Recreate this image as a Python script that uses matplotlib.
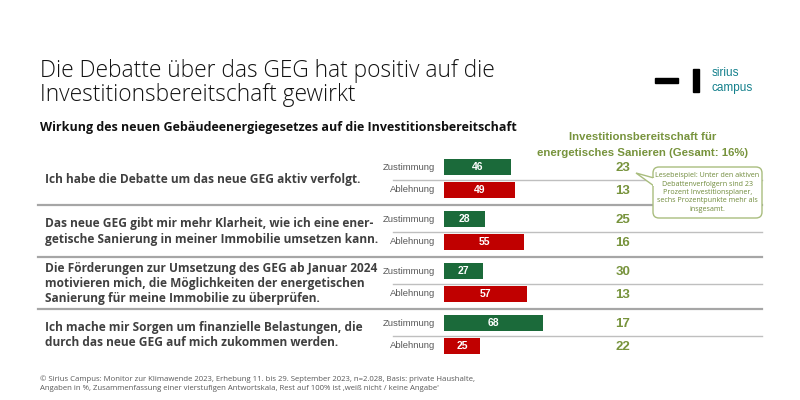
import matplotlib.pyplot as plt
from matplotlib.patches import FancyBboxPatch, Polygon, Rectangle

# data
statements = [
    "Ich habe die Debatte um das neue GEG aktiv verfolgt.",
    "Das neue GEG gibt mir mehr Klarheit, wie ich eine ener-\ngetische Sanierung in meiner Immobilie umsetzen kann.",
    "Die Förderungen zur Umsetzung des GEG ab Januar 2024\nmotivieren mich, die Möglichkeiten der energetischen\nSanierung für meine Immobilie zu überprüfen.",
    "Ich mache mir Sorgen um finanzielle Belastungen, die\ndurch das neue GEG auf mich zukommen werden.",
]
answers = ["Zustimmung", "Ablehnung"]
zustimmung = [46, 28, 27, 68]
ablehnung = [49, 55, 57, 25]
invest_zust = [23, 25, 30, 17]
invest_abl = [13, 16, 13, 22]

GREEN = "#1b6a3a"
RED = "#c00000"
OLIVE = "#77933c"
GRAY = "#a6a6a6"
TXT = "#404040"

fig = plt.figure(figsize=(8, 4), dpi=100)
ax = fig.add_axes([0, 0, 1, 1])
ax.set_xlim(0, 800)
ax.set_ylim(400, 0)
ax.axis("off")

# title
ax.text(40, 71, "Die Debatte über das GEG hat positiv auf die", fontsize=16.4,
        family="Open Sans", weight="light", color="#111111", va="center")
ax.text(40, 95, "Investitionsbereitschaft gewirkt", fontsize=16.4,
        family="Open Sans", weight="light", color="#111111", va="center")
ax.text(40, 128, "Wirkung des neuen Gebäudeenergiegesetzes auf die Investitionsbereitschaft",
        fontsize=9.0, family="Open Sans", weight="bold", color="#111111", va="center")

# logo
ax.add_patch(Rectangle((655, 78), 23, 4.5, color="black"))
ax.add_patch(Rectangle((693, 69), 6, 23, color="black"))
ax.text(712, 73, "sirius", fontsize=8.5, family="Liberation Sans", color="#14808c", va="center")
ax.text(712, 88, "campus", fontsize=8.5, family="Liberation Sans", color="#14808c", va="center")

# column header
ax.text(643, 137, "Investitionsbereitschaft für", fontsize=8.2, family="Liberation Sans",
        weight="bold", color=OLIVE, ha="center", va="center")
ax.text(643, 153, "energetisches Sanieren (Gesamt: 16%)", fontsize=8.2, family="Liberation Sans",
        weight="bold", color=OLIVE, ha="center", va="center")

group_top = 155
group_h = 52
row_off = [12, 35]

bx = fig.add_axes([444 / 800, 0, 145.5 / 800, 1])
bx.set_xlim(0, 100)
bx.set_ylim(400, 0)
bx.axis("off")

for i, st in enumerate(statements):
    g0 = group_top + i * group_h
    yz = g0 + row_off[0]
    ya = g0 + row_off[1]
    ax.text(45, (yz + ya) / 2 + 1, st, fontsize=8.6, family="Open Sans", weight="bold",
            color=TXT, va="center", linespacing=1.2)
    for y, lab, val, inv, col in [(yz, answers[0], zustimmung[i], invest_zust[i], GREEN),
                                  (ya, answers[1], ablehnung[i], invest_abl[i], RED)]:
        ax.text(435, y, lab, fontsize=6.8, family="Liberation Sans", color="#595959",
                ha="right", va="center")
        bx.barh(y, val, height=16, color=col)
        bx.text(val / 2, y, str(val), fontsize=7.5, family="Liberation Sans", weight="bold",
                color="white", ha="center", va="center")
        ax.text(623, y + 1, str(inv), fontsize=9.5, family="Liberation Sans", weight="bold",
                color=OLIVE, ha="center", va="center")
    # separator within group
    ax.plot([393, 762], [g0 + 24.5, g0 + 24.5], color="#bfbfbf", lw=1)
    if i < len(statements) - 1:
        ax.plot([38, 762], [g0 + 50, g0 + 50], color=GRAY, lw=1.6)

# callout
ax.add_patch(FancyBboxPatch((653, 167), 109, 51, boxstyle="round,pad=0,rounding_size=6",
                            facecolor="white", edgecolor="#a9bd7e", lw=1, zorder=4))
ax.add_patch(Polygon([(654, 178), (636, 173), (654, 186)], closed=False, facecolor="white",
                     edgecolor="#a9bd7e", lw=1, zorder=5))
ax.plot([653.5, 653.5], [179, 185], color="white", lw=1.5, zorder=6)
ax.text(707.5, 192.5, "Lesebeispiel: Unter den aktiven\nDebattenverfolgern sind 23\n"
        "Prozent Investitionsplaner,\nsechs Prozentpunkte mehr als\ninsgesamt.",
        fontsize=5.15, family="Open Sans", color="#6f8a3a", ha="center", va="center",
        linespacing=1.3, zorder=7)

# footer
ax.text(40, 379.5, "© Sirius Campus: Monitor zur Klimawende 2023, Erhebung 11. bis 29. September 2023, "
        "n=2.028, Basis: private Haushalte,", fontsize=5.6, family="Open Sans", color="#595959",
        va="center")
ax.text(40, 388.5, "Angaben in %, Zusammenfassung einer vierstufigen Antwortskala, Rest auf 100% ist "
        "‚weiß nicht / keine Angabe'", fontsize=5.6, family="Open Sans", color="#595959",
        va="center")

fig.savefig("out.png", dpi=100)
